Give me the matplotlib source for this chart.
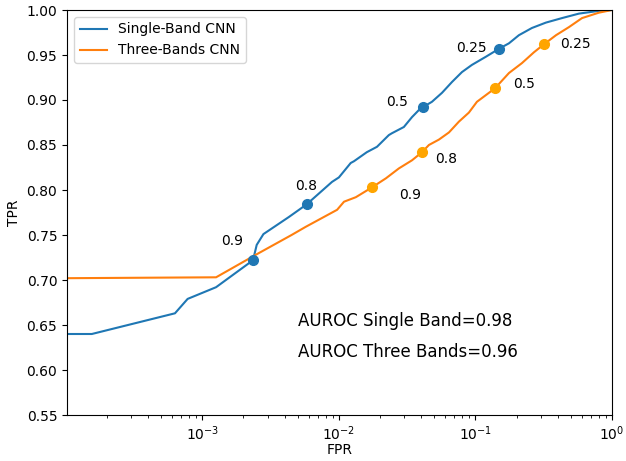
import matplotlib
matplotlib.use("Agg")
import matplotlib.pyplot as plt

# ROC curves (log-scale FPR)
fpr_single = [1.0e-4, 1.55e-4, 6.3e-4, 7.8e-4, 1.26e-3, 2.35e-3, 2.5e-3, 2.8e-3, 4.3e-3,
              5.8e-3, 8.9e-3, 1.0e-2, 1.22e-2, 1.29e-2, 1.60e-2, 1.90e-2, 2.32e-2, 2.44e-2,
              2.99e-2, 3.43e-2, 3.86e-2, 4.12e-2, 4.8e-2, 5.69e-2, 6.73e-2, 7.96e-2, 9.42e-2,
              0.119, 0.149, 0.176, 0.208, 0.259, 0.328, 0.430, 0.573, 0.80, 1.0]
tpr_single = [0.640, 0.640, 0.663, 0.679, 0.692, 0.722, 0.739, 0.751, 0.770,
              0.784, 0.809, 0.814, 0.830, 0.832, 0.842, 0.848, 0.861, 0.863,
              0.870, 0.881, 0.889, 0.892, 0.898, 0.908, 0.920, 0.931, 0.939,
              0.948, 0.957, 0.963, 0.972, 0.980, 0.986, 0.991, 0.996, 0.999, 1.0]

fpr_three = [1.0e-4, 1.26e-3, 2.46e-3, 4.5e-3, 5.7e-3, 9.7e-3, 1.09e-2, 1.33e-2, 1.75e-2,
             2.21e-2, 2.75e-2, 3.43e-2, 4.06e-2, 4.56e-2, 5.4e-2, 6.4e-2, 7.57e-2, 8.95e-2,
             0.1025, 0.139, 0.176, 0.219, 0.268, 0.318, 0.389, 0.484, 0.603, 0.80, 1.0]
tpr_three = [0.702, 0.703, 0.728, 0.750, 0.759, 0.778, 0.787, 0.792, 0.803,
             0.813, 0.824, 0.833, 0.842, 0.850, 0.856, 0.864, 0.876, 0.886,
             0.898, 0.913, 0.930, 0.941, 0.953, 0.962, 0.972, 0.981, 0.991, 0.997, 1.0]

# threshold points
thresholds = ["0.9", "0.8", "0.5", "0.25"]
thr_fpr_single = [2.35e-3, 5.8e-3, 4.12e-2, 0.149]
thr_tpr_single = [0.722, 0.784, 0.892, 0.957]
thr_fpr_three = [1.75e-2, 4.06e-2, 0.139, 0.318]
thr_tpr_three = [0.803, 0.842, 0.913, 0.962]

auroc_single = 0.98
auroc_three = 0.96

fig = plt.figure(figsize=(6.26, 4.61), dpi=100)
ax = fig.add_subplot(111)
fig.subplots_adjust(left=67 / 626, right=612 / 626, top=1 - 10 / 461, bottom=1 - 415 / 461)

ax.plot(fpr_single, tpr_single, color="#1f77b4", lw=1.5, label="Single-Band CNN")
ax.plot(fpr_three, tpr_three, color="#ff7f0e", lw=1.5, label="Three-Bands CNN")

ax.plot(thr_fpr_single, thr_tpr_single, "o", color="#1f77b4", ms=7)
ax.plot(thr_fpr_three, thr_tpr_three, "o", color="orange", ms=7)

# label offsets in pixels (text centre relative to marker)
off_single = [(-21, 19), (0, 18), (-26, 5), (-28, 1)]
off_three = [(38, -8), (24, -7), (29, 4), (31, 0)]
for t, x, y, o in zip(thresholds, thr_fpr_single, thr_tpr_single, off_single):
    ax.annotate(t, (x, y), xytext=o, textcoords="offset pixels",
                ha="center", va="center", fontsize=10)
for t, x, y, o in zip(thresholds, thr_fpr_three, thr_tpr_three, off_three):
    ax.annotate(t, (x, y), xytext=o, textcoords="offset pixels",
                ha="center", va="center", fontsize=10)

ax.text(0.424, 0.232, f"AUROC Single Band={auroc_single}", transform=ax.transAxes,
        fontsize=12, va="center")
ax.text(0.424, 0.156, f"AUROC Three Bands={auroc_three}", transform=ax.transAxes,
        fontsize=12, va="center")

ax.set_xscale("log")
ax.set_xlim(1.02e-4, 1)
ax.set_ylim(0.55, 1.0)
ax.set_xlabel("FPR", labelpad=0)
ax.set_ylabel("TPR")
ax.legend(loc="upper left")

fig.savefig("out.png", dpi=100)
